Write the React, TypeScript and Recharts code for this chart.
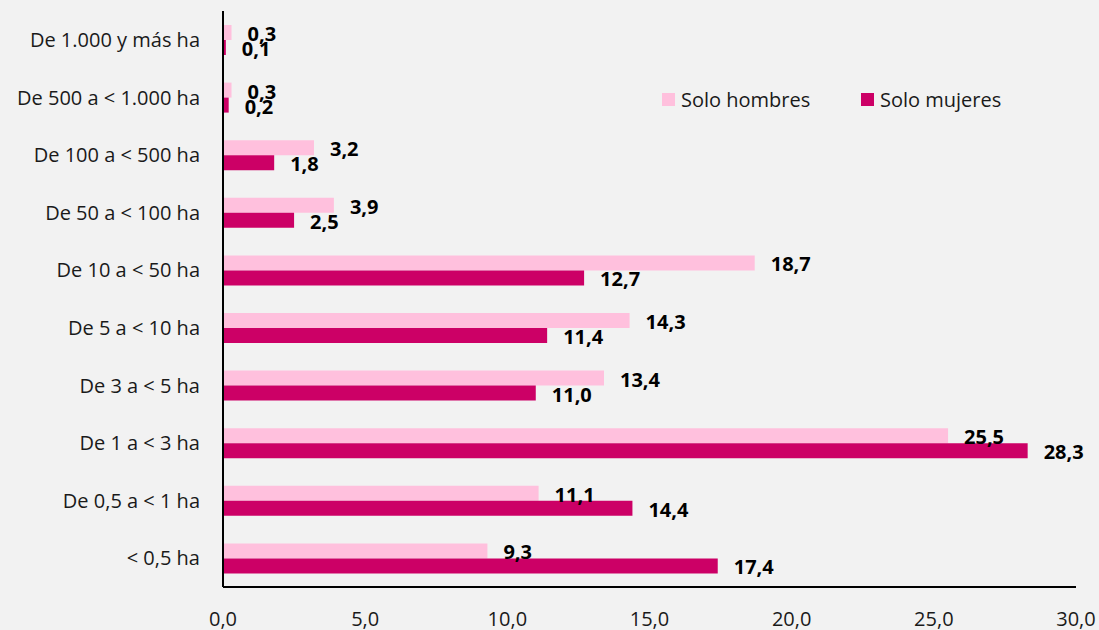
import React from "react";
import { BarChart, Bar, XAxis, YAxis, LabelList } from "recharts";

const categories = [
  "De 1.000 y más ha",
  "De 500 a < 1.000 ha",
  "De 100 a < 500 ha",
  "De 50 a < 100 ha",
  "De 10 a < 50 ha",
  "De 5 a < 10 ha",
  "De 3 a < 5 ha",
  "De 1 a < 3 ha",
  "De 0,5 a < 1 ha",
  "< 0,5 ha",
];
const soloHombres = [0.3, 0.3, 3.2, 3.9, 18.7, 14.3, 13.4, 25.5, 11.1, 9.3];
const soloMujeres = [0.1, 0.2, 1.8, 2.5, 12.7, 11.4, 11.0, 28.3, 14.4, 17.4];
const xTicks = [0, 5, 10, 15, 20, 25, 30];

const SERIES = [
  { key: "hombres", label: "Solo hombres", color: "#FFC0DD" },
  { key: "mujeres", label: "Solo mujeres", color: "#CC0066" },
] as const;

const FONT = "'Open Sans', 'Noto Sans', sans-serif";

const rows = categories.map((c, i) => ({
  cat: c,
  hombres: soloHombres[i],
  mujeres: soloMujeres[i],
}));

const fmt = (v: number) => v.toFixed(1).replace(".", ",");

function ValueLabel(props: any) {
  const { x, y, width, height, value } = props;
  return (
    <text
      x={x + width + 16}
      y={y + height / 2 + 1}
      dominantBaseline="central"
      fontFamily={FONT}
      fontSize={20}
      fontWeight={700}
      fill="#000"
    >
      {fmt(value)}
    </text>
  );
}

// leyenda fuera del gráfico para no mover el área de trazado
function LegendBox() {
  return (
    <div
      style={{
        position: "absolute",
        top: 86,
        left: 662,
        display: "flex",
        fontFamily: FONT,
        fontSize: 20,
        color: "#1a1a1a",
      }}
    >
      {SERIES.map(({ key, label, color }) => (
        <span key={key} style={{ display: "flex", alignItems: "center", width: 199 }}>
          <span
            style={{ display: "inline-block", width: 13, height: 13, background: color, marginRight: 6 }}
          />
          {label}
        </span>
      ))}
    </div>
  );
}

export default function App() {
  return (
    <div
      style={{
        position: "fixed",
        top: 0,
        left: 0,
        width: 1099,
        height: 630,
        background: "#F2F2F2",
      }}
    >
      <BarChart
        layout="vertical"
        width={1099}
        height={630}
        data={rows}
        margin={{ top: 11, right: 23, bottom: 13, left: 0 }}
        barGap={0}
        barSize={15}
      >
        <XAxis
          type="number"
          domain={[0, 30]}
          ticks={xTicks}
          tickFormatter={fmt}
          tickLine={false}
          axisLine={{ stroke: "#000", strokeWidth: 2 }}
          tickMargin={19}
          height={30}
          interval={0}
          tick={{ fontSize: 20, fill: "#1a1a1a", fontFamily: FONT }}
        />
        <YAxis
          type="category"
          dataKey="cat"
          width={223}
          tickLine={false}
          axisLine={{ stroke: "#000", strokeWidth: 2 }}
          tickMargin={17}
          interval={0}
          tick={{ fontSize: 20, fill: "#1a1a1a", fontFamily: FONT }}
        />
        {SERIES.map(({ key, color }) => (
          <Bar key={key} dataKey={key} fill={color} isAnimationActive={false}>
            <LabelList dataKey={key} content={<ValueLabel />} />
          </Bar>
        ))}
      </BarChart>
      <LegendBox />
    </div>
  );
}
